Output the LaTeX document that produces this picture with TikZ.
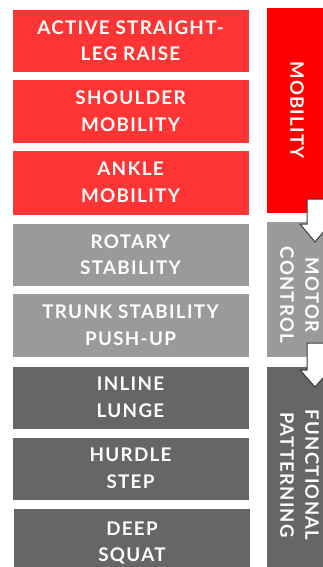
\documentclass[tikz,border=0pt]{standalone}
\usepackage{fontspec}
\newfontfamily\boxfont[LetterSpace=7]{Lato Bold}
\definecolor{redA}{HTML}{FF3535}
\definecolor{redB}{HTML}{FF0000}
\definecolor{grayA}{HTML}{9A9A9A}
\definecolor{grayB}{HTML}{666666}
\definecolor{edgeC}{HTML}{3A3A3A}
\tikzset{
  testbox/.style={draw=white, line width=0.6pt, minimum width=237pt, align=center,
    text=white, font=\boxfont\fontsize{18.8}{26.5}\selectfont, inner sep=0pt},
  sidebox/.style={minimum width=70pt, inner sep=0pt},
  sidetext/.style={rotate=-90, align=center, text=white, font=\boxfont\fontsize{18.5}{25}\selectfont, inner sep=0pt},
  blockarrow/.style={fill=white, draw=edgeC, line width=1pt, line join=miter}
}
\begin{document}
\begin{tikzpicture}[x=1pt,y=-1pt]
\useasboundingbox (0,0) rectangle (323,567);
\clip (0,0) rectangle (323,567);
\fill[white] (0,0) rectangle (323,567);
% left column
\node[testbox, fill=redA, minimum height=63pt] (b1) at (130.5,40.5) {ACTIVE STRAIGHT-\\LEG RAISE};
\node[testbox, fill=redA, minimum height=64pt] (b2) at (130.5,111) {SHOULDER\\MOBILITY};
\node[testbox, fill=redA, minimum height=65pt] (b3) at (130.5,182.5) {ANKLE\\MOBILITY};
\node[testbox, fill=grayA, minimum height=63pt] (b4) at (130.5,254.5) {ROTARY\\STABILITY};
\node[testbox, fill=grayA, minimum height=64pt] (b5) at (130.5,325) {TRUNK STABILITY\\PUSH-UP};
\node[testbox, fill=grayB, minimum height=63pt] (b6) at (130.5,397.5) {INLINE\\LUNGE};
\node[testbox, fill=grayB, minimum height=63pt] (b7) at (130.5,468.5) {HURDLE\\STEP};
\node[testbox, fill=grayB, minimum height=70pt] (b8) at (132,543) {DEEP\\SQUAT};
% right column
\node[sidebox, fill=redB, minimum height=205pt] (mob) at (302,110.5) {};
\node[sidebox, fill=grayA, minimum height=135pt] (mot) at (302,289.5) {};
\node[sidebox, fill=grayB, minimum height=210pt] (fun) at (302,472) {};
\node[sidetext] (mobt) at (297,110) {MOBILITY};
\node[sidetext] (mott) at (299.5,295) {MOTOR\\CONTROL};
\node[sidetext] (funt) at (299.5,475) {FUNCTIONAL\\PATTERNING};
% block arrows
\draw[blockarrow] (307,199) -- (307,224) -- (300,224) -- (315,242) -- (330,224) -- (324.5,224) -- (324.5,199) -- cycle;
\draw[blockarrow] (307,343) -- (307,370) -- (300,370) -- (315,387) -- (330,370) -- (324.5,370) -- (324.5,343) -- cycle;
\end{tikzpicture}
\end{document}
